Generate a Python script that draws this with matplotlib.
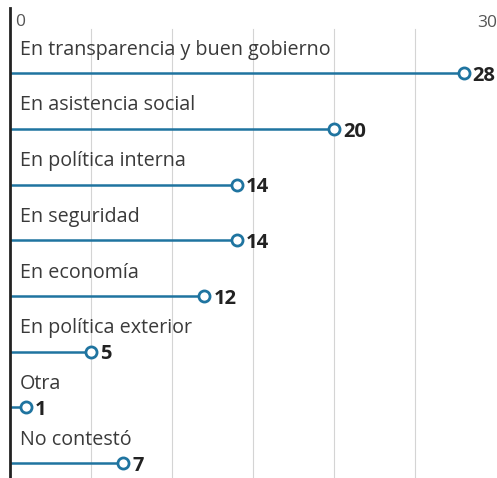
import matplotlib
matplotlib.use("Agg")
import matplotlib.pyplot as plt

categories = ["En transparencia y buen gobierno", "En asistencia social", "En política interna",
              "En seguridad", "En economía", "En política exterior", "Otra", "No contestó"]
values = [28, 20, 14, 14, 12, 5, 1, 7]
axis_ticks = [0, 30]
grid_ticks = [5, 10, 15, 20, 25]

plt.rcParams['font.family'] = ['Open Sans', 'DejaVu Sans']

W, H = 497, 478
fig = plt.figure(figsize=(W / 100, H / 100), dpi=100)
fig.patch.set_facecolor('white')
ax = fig.add_axes([10 / W, 0, 486 / W, 1 - 8 / H])
ax.set_xlim(0, 30)
ax.set_ylim(7.27, -1.17)

line_color = '#1f74a0'
for g in grid_ticks:
    ax.axvline(g, ymin=0, ymax=0.955, color='#d4d4d4', lw=0.8, zorder=0)

for i, (cat, v) in enumerate(zip(categories, values)):
    ax.plot([0, v], [i, i], color=line_color, lw=1.8, solid_capstyle='butt', zorder=2)
    ax.plot([v], [i], marker='o', ms=8, mfc='white', mec=line_color, mew=2, zorder=3)
    ax.text(0.6, i - 0.42, cat, fontsize=14.2, color='#3a3a3a', va='center', ha='left')
    ax.text(v + 0.55, i + 0.05, str(v), fontsize=14.5, fontweight='bold', color='#222222',
            va='center', ha='left', clip_on=False)

ax.text(0.3, -0.92, str(axis_ticks[0]), fontsize=12.5, color='#555555', va='center', ha='left')
ax.text(30.05, -0.9, str(axis_ticks[1]), fontsize=12.5, color='#555555', va='center', ha='right',
        clip_on=False)

for s in ['top', 'right', 'bottom']:
    ax.spines[s].set_visible(False)
ax.spines['left'].set_linewidth(2)
ax.spines['left'].set_color('#222222')
ax.set_xticks([])
ax.set_yticks([])

fig.savefig('out.png', dpi=100, facecolor='white')
